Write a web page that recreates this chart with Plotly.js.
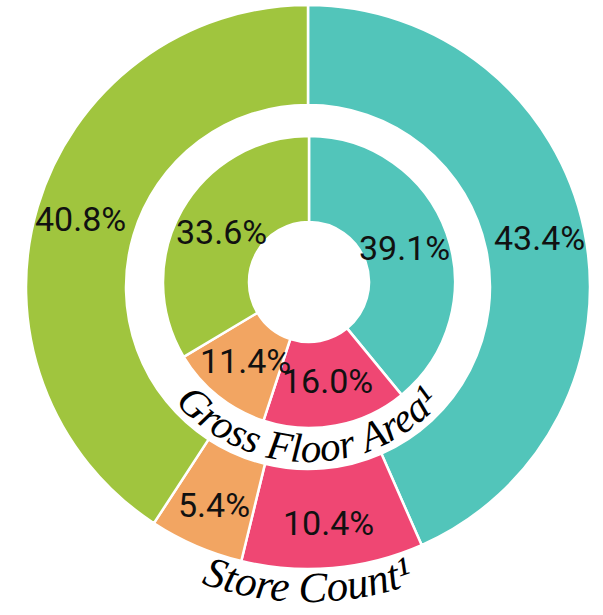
<!DOCTYPE html>
<html><head><meta charset="utf-8">
<script src="https://cdn.plot.ly/plotly-3.0.1.min.js"></script>
<style>
html,body{margin:0;padding:0;background:#fff;}
#wrap{position:relative;width:603px;height:615px;}
#chart{width:603px;height:615px;}
#arcs{position:absolute;left:0;top:0;pointer-events:none;}
</style>
</head><body>
<div id="wrap"><div id="chart"></div><svg id="arcs" width="603" height="615"></svg></div>
<script>
// ---- data ----
const categories = ['Segment A', 'Segment B', 'Segment C', 'Segment D'];
const storeCount = [43.4, 10.4, 5.4, 40.8];        // outer ring
const grossFloorArea = [39.1, 16.0, 11.4, 33.6];   // inner ring
const colors = ['#52C5BA', '#EF4773', '#F2A562', '#A0C53E'];
const ringTitles = ['Store Count\u00B9', 'Gross Floor Area\u00B9'];

// ---- geometry (pixels) ----
const W = 603, H = 615;
const outerC = { x: 308, y: 287 }, outerR = 282, outerHoleR = 182;
const innerC = { x: 309, y: 282 }, innerR = 146, innerHoleR = 60;

function domainFor(c, r) {
  return {
    x: [(c.x - r) / W, (c.x + r) / W],
    y: [(H - c.y - r) / H, (H - c.y + r) / H]
  };
}

function ring(values, c, r, holeR) {
  return {
    type: 'pie',
    values: values,
    labels: categories,
    sort: false,
    direction: 'clockwise',
    rotation: 0,
    hole: holeR / r,
    domain: domainFor(c, r),
    marker: { colors: colors, line: { color: '#ffffff', width: 2.5 } },
    textinfo: 'none',
    hoverinfo: 'skip',
    showlegend: false
  };
}

function labelAnnotations(values, c, r0, r1, shift) {
  const total = values.reduce((a, b) => a + b, 0);
  const rm = (r0 + r1) / 2 + shift;
  let cum = 0;
  return values.map(v => {
    const mid = (cum + v / 2) / total * 2 * Math.PI;
    cum += v;
    const px = c.x + rm * Math.sin(mid);
    const py = c.y - rm * Math.cos(mid);
    return {
      x: px / W, y: (H - py) / H, xref: 'paper', yref: 'paper',
      xanchor: 'center', yanchor: 'middle', showarrow: false,
      text: v.toFixed(1) + '%',
      font: { family: 'Roboto, sans-serif', size: 34, color: '#111111' }
    };
  });
}

const data = [ring(storeCount, outerC, outerR, outerHoleR), ring(grossFloorArea, innerC, innerR, innerHoleR)];
const layout = {
  width: W, height: H,
  margin: { l: 0, r: 0, t: 0, b: 0, pad: 0 },
  paper_bgcolor: '#ffffff',
  showlegend: false,
  annotations: labelAnnotations(storeCount, outerC, outerHoleR, outerR, 5)
    .concat(labelAnnotations(grossFloorArea, innerC, innerHoleR, innerR, -2))
};

Plotly.newPlot('chart', data, layout, { staticPlot: true, displayModeBar: false }).then(() => {
  const svg = document.getElementById('arcs');
  const NS = 'http://www.w3.org/2000/svg';
  const defs = document.createElementNS(NS, 'defs');
  svg.appendChild(defs);
  const arcs = [
    { text: ringTitles[0], c: outerC, r: 315, id: 'arcStore', size: 43 },
    { text: ringTitles[1], c: { x: 308, y: 284 }, r: 178, id: 'arcGfa', size: 41 }
  ];
  arcs.forEach(a => {
    const A = 100 * Math.PI / 180;
    const x0 = a.c.x - a.r * Math.sin(A), y0 = a.c.y + a.r * Math.cos(A);
    const x1 = a.c.x + a.r * Math.sin(A), y1 = a.c.y + a.r * Math.cos(A);
    const p = document.createElementNS(NS, 'path');
    p.setAttribute('id', a.id);
    p.setAttribute('d', `M ${x0} ${y0} A ${a.r} ${a.r} 0 1 0 ${x1} ${y1}`);
    p.setAttribute('fill', 'none');
    defs.appendChild(p);
    const t = document.createElementNS(NS, 'text');
    t.setAttribute('font-family', 'Liberation Serif, serif');
    t.setAttribute('font-style', 'italic');
    t.setAttribute('font-size', String(a.size));
    t.setAttribute('fill', '#000');
    t.setAttribute('text-anchor', 'middle');
    const tp = document.createElementNS(NS, 'textPath');
    tp.setAttribute('href', '#' + a.id);
    tp.setAttribute('startOffset', '50%');
    tp.textContent = a.text;
    t.appendChild(tp);
    svg.appendChild(t);
  });
});
</script>
</body></html>
